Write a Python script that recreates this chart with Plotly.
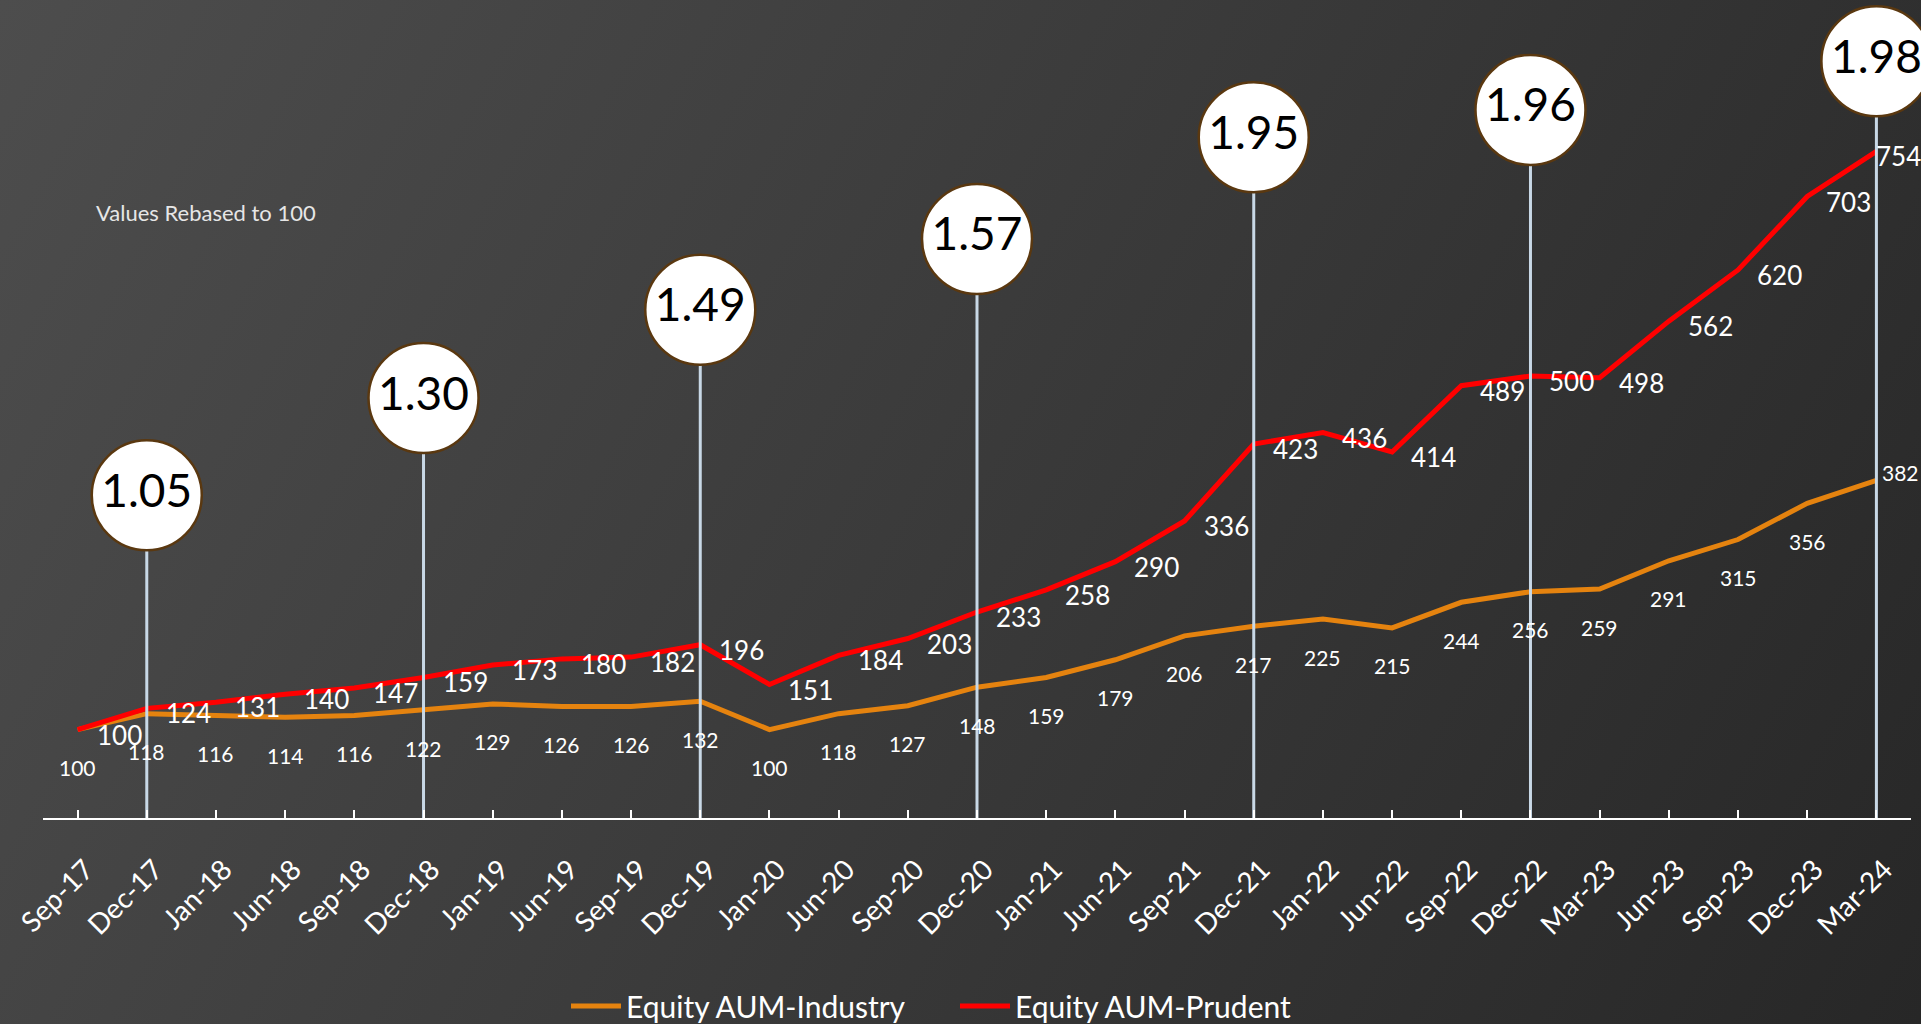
import base64

import plotly.graph_objects as go

months = [
    "Sep-17", "Dec-17", "Jan-18", "Jun-18", "Sep-18", "Dec-18", "Jan-19", "Jun-19", "Sep-19",
    "Dec-19", "Jan-20", "Jun-20", "Sep-20", "Dec-20", "Jan-21", "Jun-21", "Sep-21", "Dec-21",
    "Jan-22", "Jun-22", "Sep-22", "Dec-22", "Mar-23", "Jun-23", "Sep-23", "Dec-23", "Mar-24",
]
industry = [100, 118, 116, 114, 116, 122, 129, 126, 126, 132, 100, 118, 127, 148, 159, 179,
            206, 217, 225, 215, 244, 256, 259, 291, 315, 356, 382]
prudent = [100, 124, 131, 140, 147, 159, 173, 180, 182, 196, 151, 184, 203, 233, 258, 290,
           336, 423, 436, 414, 489, 500, 498, 562, 620, 703, 754]

# Prudent / Industry multiple shown in the bubbles
ratio_months = ["Dec-17", "Dec-18", "Dec-19", "Dec-20", "Dec-21", "Dec-22", "Mar-24"]
ratio_labels = ["1.05", "1.30", "1.49", "1.57", "1.95", "1.96", "1.98"]
# how high each bubble floats (in chart units)
bubble_height = [365, 475, 575, 655, 770, 801, 856]

W, H = 1921, 1024
ML, MR, MT, MB = 43, 10, 10, 206
ORANGE = "#e5830f"
RED = "#ff0000"
FONT = "Lato"

fig = go.Figure()

fig.add_trace(go.Scatter(x=months, y=industry, mode="lines", name="Equity AUM-Industry",
                         line=dict(color=ORANGE, width=5)))
fig.add_trace(go.Scatter(x=months, y=prudent, mode="lines", name="Equity AUM-Prudent",
                         line=dict(color=RED, width=5)))

# stems from axis up to the bubbles
sx, sy = [], []
for m, h in zip(ratio_months, bubble_height):
    sx += [m, m, None]
    sy += [0, h, None]
fig.add_trace(go.Scatter(x=sx, y=sy, mode="lines", showlegend=False, hoverinfo="skip",
                         line=dict(color="#c8d8e6", width=3)))

fig.add_trace(go.Scatter(
    x=ratio_months, y=bubble_height, mode="markers+text", text=ratio_labels,
    textposition="middle center", showlegend=False, cliponaxis=False, hoverinfo="skip",
    marker=dict(size=110, color="white", line=dict(color="#5a3810", width=2.5)),
    textfont=dict(family=FONT, size=46, color="black"),
))

n = len(months)
for i, (m, v) in enumerate(zip(months, industry)):
    if i == n - 1:
        fig.add_annotation(x=m, y=v, text=str(v), showarrow=False, xanchor="left",
                           xshift=4, yshift=8, font=dict(family=FONT, size=21, color="white"))
    else:
        fig.add_annotation(x=m, y=v, text=str(v), showarrow=False, xanchor="center",
                           yshift=-38, font=dict(family=FONT, size=21, color="white"))
for i, (m, v) in enumerate(zip(months, prudent)):
    xs = -2 if i == n - 1 else 17
    fig.add_annotation(x=m, y=v, text=str(v), showarrow=False, xanchor="left",
                       xshift=xs, yshift=-5, font=dict(family=FONT, size=26, color="white"))

pw, ph = W - ML - MR, H - MT - MB
fig.add_annotation(xref="paper", yref="paper", x=(94 - ML) / pw, y=(H - MB - 212) / ph,
                   xanchor="left", yanchor="middle", showarrow=False, text="Values Rebased to 100",
                   font=dict(family=FONT, size=22, color="#e6e6e6"))

# diagonal dark gradient background
svg = (
    f'<svg xmlns="http://www.w3.org/2000/svg" width="{W}" height="{H}" '
    f'viewBox="0 0 {W} {H}" preserveAspectRatio="none">'
    f'<defs><linearGradient id="g" gradientUnits="userSpaceOnUse" x1="0" y1="0" x2="{W}" y2="{H}">'
    '<stop offset="0" stop-color="#4d4d4d"/><stop offset="1" stop-color="#272727"/>'
    '</linearGradient></defs>'
    f'<rect width="{W}" height="{H}" fill="url(#g)"/></svg>'
)
src = "data:image/svg+xml;base64," + base64.b64encode(svg.encode()).decode()
fig.add_layout_image(dict(source=src, xref="paper", yref="paper", x=-ML / pw, y=1 + MT / ph,
                          sizex=W / pw, sizey=H / ph, xanchor="left", yanchor="top",
                          sizing="stretch", layer="below"))

fig.update_layout(
    width=W, height=H,
    margin=dict(l=ML, r=MR, t=MT, b=MB, autoexpand=False),
    paper_bgcolor="#2e2e2e",
    plot_bgcolor="rgba(0,0,0,0)",
    font=dict(family=FONT, color="white"),
    showlegend=True,
    legend=dict(orientation="h", x=(566 - ML) / pw, xanchor="left",
                yref="container", y=1 - 1006 / H, yanchor="middle",
                itemwidth=50, entrywidth=324,
                font=dict(family=FONT, size=30, color="white"),
                bgcolor="rgba(0,0,0,0)"),
    xaxis=dict(range=[-0.5, n - 0.5], showgrid=False, zeroline=False, showline=True,
               automargin=False,
               linecolor="white", linewidth=2, ticks="inside", ticklen=8, tickcolor="white",
               tickwidth=1.5, tickangle=-45, ticklabelstandoff=22, ticklabelshift=8,
               tickfont=dict(family=FONT, size=28, color="white")),
    yaxis=dict(range=[0, 914], visible=False, showgrid=False, zeroline=False, automargin=False),
)

fig.write_html("out.html", config={"displayModeBar": False},
               post_script="document.body.style.margin='0';document.body.style.overflow='hidden';")
